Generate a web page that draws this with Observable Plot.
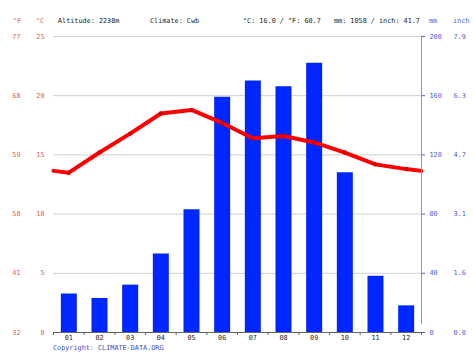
<!DOCTYPE html>
<html><head><meta charset="utf-8">
<script src="https://cdn.jsdelivr.net/npm/d3@7"></script>
<script src="https://cdn.jsdelivr.net/npm/@observablehq/plot@0.6"></script>
<style>html,body{margin:0;padding:0;background:#fff;overflow:hidden}svg{display:block}</style>
</head><body><div id="chart"></div>
<script>
const months = [1,2,3,4,5,6,7,8,9,10,11,12];
const monthLabels = ["01","02","03","04","05","06","07","08","09","10","11","12"];
const precipMm = [26,23,32,53,83,159,170,166,182,108,38,18];
const tempC = [13.5,15.2,16.8,18.5,18.8,17.7,16.4,16.6,16.05,15.2,14.2,13.8];
const cTicks = [0,5,10,15,20,25];
const fLabels = ["32","41","50","59","68","77"];
const mmLabels = ["0","40","80","120","160","200"];
const inchLabels = ["0.0","1.6","3.1","4.7","6.3","7.9"];
const header = [
  {text:"°F", x:17, anchor:"middle", color:"#e05a5a"},
  {text:"°C", x:40, anchor:"middle", color:"#e05a5a"},
  {text:"Altitude: 2238m", x:58, anchor:"start", color:"#222"},
  {text:"Climate: Cwb", x:150, anchor:"start", color:"#222"},
  {text:"°C: 16.0 / °F: 60.7", x:243, anchor:"start", color:"#222"},
  {text:"mm: 1058 / inch: 41.7", x:334, anchor:"start", color:"#222"},
  {text:"mm", x:429, anchor:"start", color:"#4a5ee0"},
  {text:"inch", x:453, anchor:"start", color:"#4a5ee0"}
];
const copyright = "Copyright: CLIMATE-DATA.ORG";

const red = "#ff0000", blue = "#0026ff", tRed = "#e05a5a", tBlue = "#4a5ee0";
const bars = months.map((m,i)=>({m, v: precipMm[i]/8}));
const wrap = (tempC[0]+tempC[11])/2;
const pts = months.map((m,i)=>({m, t: tempC[i]}));
const linePts = [{m: 0.5, t: wrap}, ...pts, {m: 12.5, t: wrap}];
const bounds = d3.range(0.5, 13, 1);
const labelOf = (arr) => (v) => arr[cTicks.indexOf(v)];

const chart = Plot.plot({
  width: 474, height: 355,
  marginLeft: 53, marginRight: 53, marginTop: 36, marginBottom: 23,
  style: {fontFamily: "'DejaVu Sans Mono', monospace", fontSize: "6.8px", background: "#fff"},
  x: {type: "linear", domain: [0.5, 12.5], axis: null, label: null},
  y: {domain: [0, 25], axis: null, label: null},
  marks: [
    Plot.gridY(cTicks, {stroke: "#cfcfcf", strokeOpacity: 1}),
    Plot.ruleX(bars, {x: "m", y1: 0, y2: "v", stroke: blue, strokeWidth: 16}),
    Plot.line(linePts, {x: "m", y: "t", stroke: red, strokeWidth: 4}),
    Plot.dot(pts, {x: "m", y: "t", r: 2.2, fill: "#d80000"}),
    Plot.ruleY([0], {stroke: "#666"}),
    Plot.ruleX([12.5], {y1: 0, y2: 25, insetTop: -8, stroke: "#999"}),
    Plot.axisX(bounds, {anchor: "bottom", label: null, tickSize: 3, tickFormat: () => "", stroke: "#666"}),
    Plot.axisX(months, {anchor: "bottom", label: null, tickSize: 0, tickPadding: 3, tickFormat: (m) => monthLabels[m-1], fill: "#222"}),
    Plot.axisY(cTicks, {anchor: "left", label: null, tickSize: 0, tickPadding: 9, fill: tRed}),
    Plot.axisY(cTicks, {anchor: "left", label: null, tickSize: 0, tickPadding: 33, tickFormat: labelOf(fLabels), fill: tRed}),
    Plot.axisY(cTicks, {anchor: "right", label: null, tickSize: 3, tickPadding: 5, tickFormat: labelOf(mmLabels), fill: tBlue, stroke: tBlue}),
    Plot.axisY(cTicks, {anchor: "right", label: null, tickSize: 0, tickPadding: 32, tickFormat: labelOf(inchLabels), fill: tBlue})
  ]
});

const svg = d3.select(chart);
svg.selectAll("text.hdr").data(header).join("text")
  .attr("class", "hdr")
  .attr("x", d => d.x).attr("y", 23)
  .attr("text-anchor", d => d.anchor)
  .attr("fill", d => d.color)
  .attr("font-size", "6.8px")
  .text(d => d.text);
svg.append("text").attr("x", 53).attr("y", 350)
  .attr("text-anchor", "start")
  .attr("fill", "#3a50d0").attr("font-size", "6.8px").text(copyright);
document.getElementById("chart").appendChild(chart);
</script>
</body></html>
